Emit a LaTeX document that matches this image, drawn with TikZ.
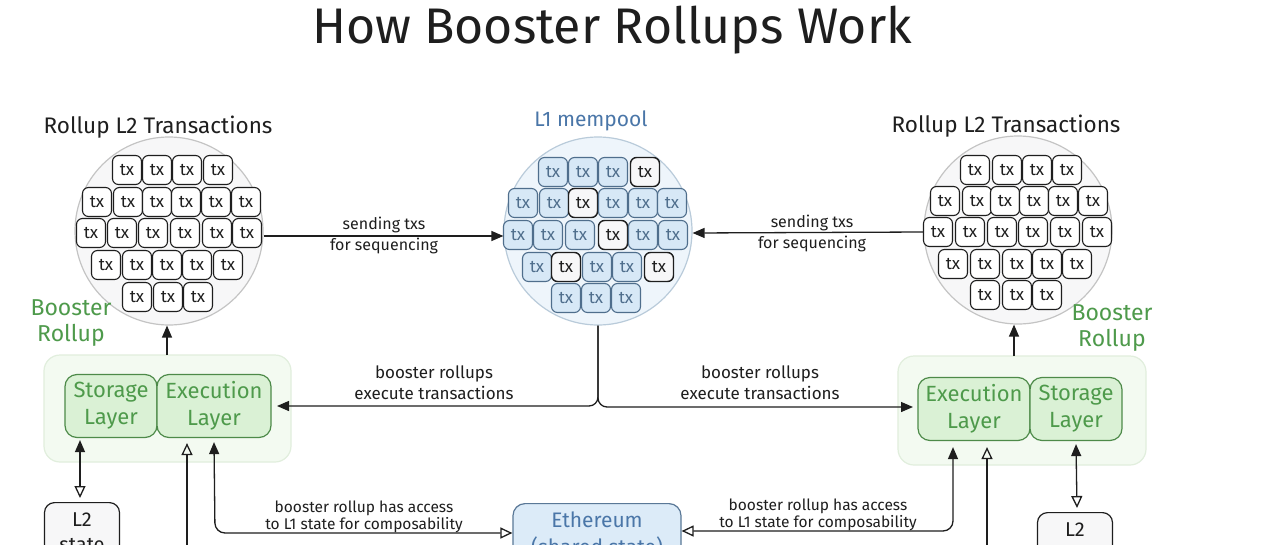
\documentclass[tikz,border=0pt]{standalone}
\usepackage{fontspec}
\setmainfont{Fira Sans}
\usetikzlibrary{arrows.meta}
\definecolor{ink}{HTML}{1E1E1E}
\definecolor{bluetxt}{HTML}{4A76A8}
\definecolor{bluefill}{HTML}{D7E8F6}
\definecolor{blueline}{HTML}{4F6E8C}
\definecolor{poolfill}{HTML}{EEF5FB}
\definecolor{poolline}{HTML}{B9CBDA}
\definecolor{grayfill}{HTML}{F7F7F8}
\definecolor{grayline}{HTML}{C4C4C4}
\definecolor{greentxt}{HTML}{4E9A4B}
\definecolor{greenfill}{HTML}{DAF1D5}
\definecolor{greenline}{HTML}{4D8A49}
\definecolor{contfill}{HTML}{F3FAF1}
\definecolor{contline}{HTML}{E1EEDD}
\definecolor{ethfill}{HTML}{DCEBF8}
\definecolor{ethline}{HTML}{5A7897}
\newcommand\txrow[3]{\foreach \xx/\st [count=\i] in {#3} {\node[tx\st] (#1-\i) at (\xx,#2) {tx};}}
\begin{document}
\begin{tikzpicture}[x=1pt,y=-1pt,
  txw/.style={draw=ink, fill=white, line width=1.1pt, rounded corners=6pt, minimum width=29pt, minimum height=29pt, inner sep=0pt, text=ink, font=\fontsize{17}{17}\selectfont},
  txk/.style={txw, fill=grayfill, line width=1.4pt},
  txb/.style={txw, draw=blueline, fill=bluefill, text=blueline},
  pool/.style={circle, draw=grayline, fill=grayfill, line width=1.2pt, minimum size=188pt, inner sep=0pt},
  mpool/.style={pool, draw=poolline, fill=poolfill},
  lbl/.style={align=center, text=ink, inner sep=0pt, font=\fontsize{17}{21}\selectfont},
  head/.style={text=ink, inner sep=0pt, font=\fontsize{22.5}{24}\selectfont},
  green/.style={align=center, text=greentxt, inner sep=0pt, font=\fontsize{23}{26}\selectfont},
  cont/.style={draw=contline, fill=contfill, line width=1.2pt, rounded corners=16pt},
  layer/.style={draw=greenline, fill=greenfill, line width=1.2pt, rounded corners=12pt, align=center, text=greentxt, inner sep=0pt, font=\fontsize{22}{27}\selectfont},
  state/.style={draw=ink, fill=grayfill, line width=1.2pt, rounded corners=10pt, align=center, text=ink, inner sep=0pt, font=\fontsize{20}{25}\selectfont},
  arr/.style={draw=ink, line width=1.3pt, -{Triangle[length=12pt,width=10pt]}},
  both/.style={draw=ink, line width=1.3pt, {Triangle[length=12pt,width=10pt]}-{Triangle[open,length=12pt,width=11pt]}},
  oarr/.style={draw=ink, line width=1.3pt, -{Triangle[open,length=12pt,width=11pt]}},
]
\path[use as bounding box] (0,0) rectangle (1280,544);
\clip (0,0) rectangle (1280,544);
\fill[white] (0,0) rectangle (1280,544);

% title
\node[text=ink, inner sep=0pt, font=\fontsize{50}{54}\selectfont] (title) at (612,30) {How Booster Rollups Work};

% left L2 pool
\node[head] (lhead) at (158,127) {Rollup L2 Transactions};
\node[pool] (lcirc) at (169,231) {};
\txrow{la}{170}{127/w,157/w,187/w,218/w}
\txrow{lb}{202}{97/w,128/w,157/w,186/w,216/w,246/w}
\txrow{lc}{233}{91/w,122/w,153/w,185/w,217/w,247/w}
\txrow{ld}{265}{106/w,137/w,167/w,197/w,228/w}
\txrow{le}{297}{137/w,168/w,198/w}

% mempool
\node[text=bluetxt, inner sep=0pt, font=\fontsize{21}{24}\selectfont] (mphead) at (591,121) {L1 mempool};
\node[mpool] (mp) at (598,231) {};
\txrow{ma}{172}{553/b,583/b,613/b,645/k}
\txrow{mb}{203}{523/b,554/b,583/k,613/b,643/b,672/b}
\txrow{mc}{235}{518/b,548/b,580/b,613/k,643/b,673/b}
\txrow{md}{267}{537/b,566/k,597/b,627/b,659/k}
\txrow{me}{298}{566/b,596/b,626/b}

% right L2 pool
\node[head] (rhead) at (1006,126) {Rollup L2 Transactions};
\node[pool] (rcirc) at (1018,230) {};
\txrow{ra}{170}{975/w,1007/w,1037/w,1067/w}
\txrow{rb}{201}{945/w,977/w,1005/w,1034/w,1063/w,1093/w}
\txrow{rc}{232}{938/w,970/w,1002/w,1033/w,1065/w,1097/w}
\txrow{rd}{264}{953/w,985/w,1017/w,1047/w,1077/w}
\txrow{re}{295}{985/w,1017/w,1047/w}

% sending arrows
\node[lbl, font=\fontsize{16}{21}\selectfont] (lsend) at (384,235) {sending txs\\for sequencing};
\node[lbl, font=\fontsize{16}{21}\selectfont] (rsend) at (812,233) {sending txs\\for sequencing};
\draw[arr] ([yshift=-5pt]lcirc.east) -- ([yshift=-5pt]mp.west);
\draw[arr] ([yshift=-2pt]rcirc.west) -- ([yshift=-2pt]mp.east);

% booster rollup labels
\node[green] (lbr) at (71,323) {Booster\\Rollup};
\node[green] (rbr) at (1112,328) {Booster\\Rollup};

% containers
\path[cont] (44,355) rectangle (291,462);
\coordinate (lcont) at (167,355);
\node[layer, minimum width=92pt, minimum height=63pt] (lsto) at (111,406) {Storage\\Layer};
\node[layer, minimum width=114pt, minimum height=63pt] (lexe) at (214,406) {Execution\\Layer};

\path[cont] (898,356) rectangle (1146,465);
\coordinate (rcont) at (1014,356);
\node[layer, minimum width=112pt, minimum height=63pt] (rexe) at (974,409) {Execution\\Layer};
\node[layer, minimum width=92pt, minimum height=63pt] (rsto) at (1076,409) {Storage\\Layer};

% up arrows to pools
\draw[arr] (lcont) -- (lcont |- lcirc.south);
\draw[arr] (rcont) -- (rcont |- rcirc.south);

% execute arrows from mempool
\node[lbl] (lexec) at (434,383) {booster rollups\\execute transactions};
\node[lbl] (rexec) at (760,383) {booster rollups\\execute transactions};
\coordinate (ltip) at (277,406);
\coordinate (rtip) at (913,407);
\draw[arr, rounded corners=9pt] (mp.south) |- (ltip);
\draw[arr, rounded corners=9pt] (mp.south) |- (rtip);

% L2 state boxes
\node[state, minimum width=75pt, minimum height=60pt, anchor=north] (lstate) at (82,502) {L2\\state};
\node[state, minimum width=75pt, minimum height=60pt, anchor=north] (rstate) at (1075,512) {L2\\state};
\draw[both] ([xshift=-31pt,yshift=-2pt]lsto.south) -- ([xshift=-2pt,yshift=4pt]lstate.north);
\draw[both] ([yshift=-3pt]rsto.south) -- ([xshift=2pt,yshift=4pt]rstate.north);

% Ethereum
\node[draw=ethline, fill=ethfill, line width=1.2pt, rounded corners=12pt, minimum width=168pt, minimum height=62pt, anchor=north, align=center, text=bluetxt, inner sep=0pt, font=\fontsize{21}{27}\selectfont] (eth) at (597,503) {Ethereum\\(shared state)};

% access arrows
\node[lbl, font=\fontsize{15.5}{17}\selectfont] (lacc) at (364,517) {booster rollup has access\\to L1 state for composability};
\node[lbl, font=\fontsize{15.5}{17}\selectfont] (racc) at (818,515) {booster rollup has access\\to L1 state for composability};
\coordinate (lcorner) at (215,533);
\coordinate (rcorner) at (953,531);
\draw[both, rounded corners=10pt] ([yshift=-4pt]lexe.south) -- (lcorner) -- (lcorner -| eth.west);
\draw[both, rounded corners=10pt] ([xshift=-21pt,yshift=-6pt]rexe.south) -- (rcorner) -- (rcorner -| eth.east);

% open arrows from below
\coordinate (lbot) at (187,560);
\coordinate (rbot) at (987,560);
\draw[oarr] (lbot) -- ([xshift=-27pt,yshift=-5pt]lexe.south);
\draw[oarr] (rbot) -- ([xshift=13pt,yshift=-6pt]rexe.south);
\end{tikzpicture}
\end{document}
